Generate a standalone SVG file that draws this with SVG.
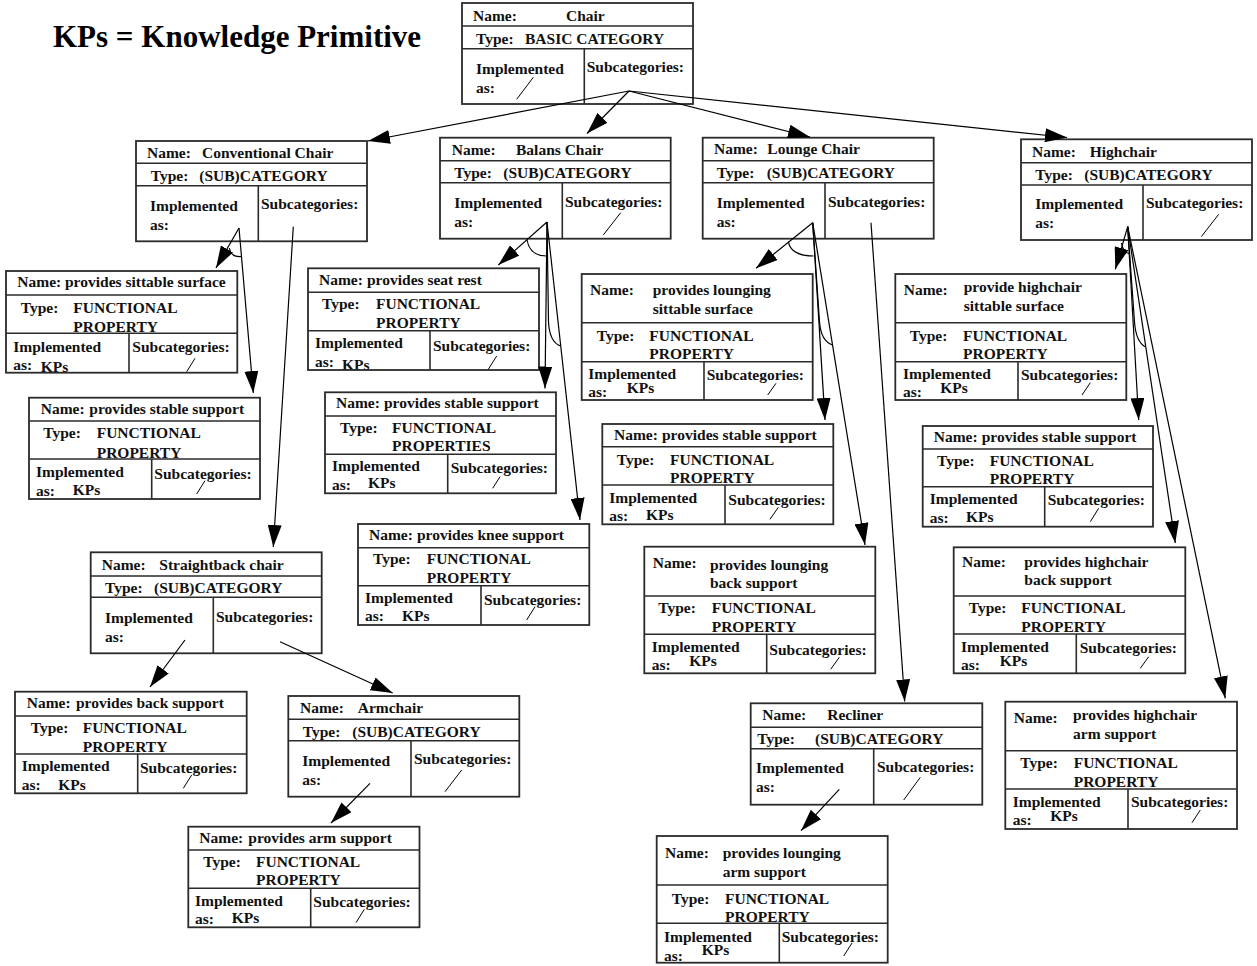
<svg xmlns="http://www.w3.org/2000/svg" width="1257" height="966" viewBox="0 0 1257 966">
<style>
.bg{fill:#fff;stroke:none}
.bd{fill:none;stroke:#2b2b2b;stroke-width:1.8}
.rl{fill:none;stroke:#2b2b2b;stroke-width:1.6}
.sl{fill:none;stroke:#000;stroke-width:1}
.c{fill:none;stroke:#000;stroke-width:1.2}
text{font-family:"Liberation Serif","Times New Roman",serif;font-weight:bold;font-size:15.5px;fill:#111}
.title{font-size:31px;fill:#000}
</style>
<defs>
<marker id="ah" viewBox="0 0 22 14" markerWidth="22" markerHeight="14" refX="22" refY="7" orient="auto" markerUnits="userSpaceOnUse">
<path d="M0,0 L22,7 L0,14 z" fill="#000"/>
</marker>
</defs>
<rect width="1257" height="966" fill="#fff"/>
<text class="title" x="53" y="47">KPs = Knowledge Primitive</text>

<g id="chair">
<rect class="bg" x="462" y="3" width="231" height="101"/>
<text x="473" y="20.7">Name:</text><text x="566" y="20.7">Chair</text>
<text x="476" y="44">Type:</text><text x="525" y="44">BASIC CATEGORY</text>
<text x="476" y="74">Implemented</text><text x="476" y="92.7">as:</text>
<text x="586.7" y="72">Subcategories:</text>
<rect class="bd" x="462" y="3" width="231" height="101"/>
<path class="rl" d="M462,26H693M462,48.7H693M584.3,48.7V104"/>
<path class="sl" d="M516.7,99.3L533.3,77.3"/>
</g>

<g id="conventional-chair">
<rect class="bg" x="136" y="141" width="231" height="100.3"/>
<text x="147" y="158.3">Name:</text><text x="202" y="158.3">Conventional Chair</text>
<text x="150.7" y="181">Type:</text><text x="199.3" y="181">(SUB)CATEGORY</text>
<text x="150" y="211">Implemented</text><text x="150" y="230">as:</text>
<text x="261" y="209">Subcategories:</text>
<rect class="bd" x="136" y="141" width="231" height="100.3"/>
<path class="rl" d="M136,163.3H367M136,185.7H367M258.3,185.7V241.3"/>
</g>

<g id="sittable-surface">
<rect class="bg" x="6" y="271" width="231.3" height="101.7"/>
<text x="17.3" y="287">Name:</text><text x="65" y="287">provides sittable surface</text>
<text x="20.7" y="313.3">Type:</text><text x="73.3" y="313.3">FUNCTIONAL</text><text x="73.3" y="332">PROPERTY</text>
<text x="13.3" y="351.7">Implemented</text><text x="13.3" y="369.5">as:</text><text x="40.7" y="372">KPs</text>
<text x="132.3" y="351.7">Subcategories:</text>
<rect class="bd" x="6" y="271" width="231.3" height="101.7"/>
<path class="rl" d="M6,295H237.3M6,333.3H237.3M129,333.3V372.7"/>
<path class="sl" d="M186.7,371.7L195,358.3"/>
</g>

<g id="stable-support-1">
<rect class="bg" x="29" y="397.7" width="231" height="101.3"/>
<text x="40.7" y="414.3">Name:</text><text x="89.3" y="414.3">provides stable support</text>
<text x="43.3" y="438.3">Type:</text><text x="96.7" y="438.3">FUNCTIONAL</text><text x="96.7" y="457.7">PROPERTY</text>
<text x="36" y="476.7">Implemented</text><text x="36" y="495.7">as:</text><text x="72.7" y="495">KPs</text>
<text x="154.3" y="479">Subcategories:</text>
<rect class="bd" x="29" y="397.7" width="231" height="101.3"/>
<path class="rl" d="M29,421H260M29,459H260M151.7,459V499"/>
<path class="sl" d="M196.7,494L205,480.7"/>
</g>

<g id="straightback-chair">
<rect class="bg" x="90.7" y="552.3" width="231" height="101"/>
<text x="101.7" y="570">Name:</text><text x="159.3" y="570">Straightback chair</text>
<text x="105" y="592.7">Type:</text><text x="154" y="592.7">(SUB)CATEGORY</text>
<text x="105" y="623.3">Implemented</text><text x="105" y="641.7">as:</text>
<text x="216" y="621.7">Subcategories:</text>
<rect class="bd" x="90.7" y="552.3" width="231" height="101"/>
<path class="rl" d="M90.7,576H321.7M90.7,597.3H321.7M213.3,597.3V653.3"/>
</g>

<g id="back-support">
<rect class="bg" x="15" y="691.7" width="231.7" height="101.6"/>
<text x="26.7" y="708.3">Name:</text><text x="76" y="708.3">provides back support</text>
<text x="30.7" y="732.7">Type:</text><text x="82.7" y="732.7">FUNCTIONAL</text><text x="82.7" y="751.7">PROPERTY</text>
<text x="21.7" y="771">Implemented</text><text x="21.7" y="790">as:</text><text x="58.3" y="790">KPs</text>
<text x="140" y="772.7">Subcategories:</text>
<rect class="bd" x="15" y="691.7" width="231.7" height="101.6"/>
<path class="rl" d="M15,716H246.7M15,754H246.7M137.7,754V793.3"/>
<path class="sl" d="M183.3,788.3L191.7,775"/>
</g>

<g id="armchair">
<rect class="bg" x="288.3" y="696" width="231" height="100.7"/>
<text x="300" y="712.7">Name:</text><text x="357.7" y="712.7">Armchair</text>
<text x="302.7" y="736.7">Type:</text><text x="352.3" y="736.7">(SUB)CATEGORY</text>
<text x="302.3" y="766">Implemented</text><text x="302.3" y="785">as:</text>
<text x="414" y="764">Subcategories:</text>
<rect class="bd" x="288.3" y="696" width="231" height="100.7"/>
<path class="rl" d="M288.3,719.3H519.3M288.3,740.7H519.3M411,740.7V796.7"/>
<path class="sl" d="M445,791.7L461.7,770"/>
</g>

<g id="arm-support">
<rect class="bg" x="188.3" y="826.7" width="231.2" height="100.6"/>
<text x="199.3" y="843.3">Name:</text><text x="248.3" y="843.3">provides arm support</text>
<text x="203.3" y="866.7">Type:</text><text x="256" y="866.7">FUNCTIONAL</text><text x="256" y="885">PROPERTY</text>
<text x="195" y="906">Implemented</text><text x="195" y="924.3">as:</text><text x="231.7" y="923.3">KPs</text>
<text x="313.3" y="906.7">Subcategories:</text>
<rect class="bd" x="188.3" y="826.7" width="231.2" height="100.6"/>
<path class="rl" d="M188.3,850H419.5M188.3,888.3H419.5M310.7,888.3V927.3"/>
<path class="sl" d="M356,922.7L364.3,909.3"/>
</g>

<g id="balans-chair">
<rect class="bg" x="440" y="137.7" width="230.7" height="101"/>
<text x="451.7" y="155">Name:</text><text x="516" y="155">Balans Chair</text>
<text x="454.3" y="178.3">Type:</text><text x="503.3" y="178.3">(SUB)CATEGORY</text>
<text x="454.3" y="208.3">Implemented</text><text x="454.3" y="226.7">as:</text>
<text x="565" y="206.7">Subcategories:</text>
<rect class="bd" x="440" y="137.7" width="230.7" height="101"/>
<path class="rl" d="M440,160.7H670.7M440,182.7H670.7M562.3,182.7V238.7"/>
<path class="sl" d="M603.3,235L620.7,212.7"/>
</g>

<g id="seat-rest">
<rect class="bg" x="308" y="268.3" width="231" height="101.7"/>
<text x="319" y="285">Name:</text><text x="367" y="285">provides seat rest</text>
<text x="322" y="309">Type:</text><text x="376" y="309">FUNCTIONAL</text><text x="376" y="328">PROPERTY</text>
<text x="315" y="348">Implemented</text><text x="315" y="367">as:</text><text x="342" y="370">KPs</text>
<text x="433" y="350.7">Subcategories:</text>
<rect class="bd" x="308" y="268.3" width="231" height="101.7"/>
<path class="rl" d="M308,292.3H539M308,330.7H539M430,330.7V370"/>
<path class="sl" d="M488.3,369.3L496.7,356"/>
</g>

<g id="stable-support-2">
<rect class="bg" x="325" y="392.3" width="231" height="101"/>
<text x="336" y="408.3">Name:</text><text x="384" y="408.3">provides stable support</text>
<text x="340" y="432.7">Type:</text><text x="392" y="432.7">FUNCTIONAL</text><text x="392" y="451">PROPERTIES</text>
<text x="332" y="471">Implemented</text><text x="332" y="490">as:</text><text x="368" y="488">KPs</text>
<text x="450.7" y="472.7">Subcategories:</text>
<rect class="bd" x="325" y="392.3" width="231" height="101"/>
<path class="rl" d="M325,416H556M325,454.3H556M447.7,454.3V493.3"/>
<path class="sl" d="M492.7,488.3L500,476.7"/>
</g>

<g id="knee-support">
<rect class="bg" x="358" y="524" width="231.3" height="101"/>
<text x="369" y="540">Name:</text><text x="417" y="540">provides knee support</text>
<text x="373" y="564.3">Type:</text><text x="426.7" y="564.3">FUNCTIONAL</text><text x="426.7" y="583.3">PROPERTY</text>
<text x="365" y="603">Implemented</text><text x="365" y="621">as:</text><text x="402" y="621">KPs</text>
<text x="484" y="605">Subcategories:</text>
<rect class="bd" x="358" y="524" width="231.3" height="101"/>
<path class="rl" d="M358,547.7H589.3M358,585.7H589.3M481,585.7V625"/>
<path class="sl" d="M526.7,620L535,606.7"/>
</g>

<g id="lounge-chair">
<rect class="bg" x="702.7" y="137.7" width="231" height="101"/>
<text x="714" y="154">Name:</text><text x="767.3" y="154">Lounge Chair</text>
<text x="716.7" y="178.3">Type:</text><text x="766.7" y="178.3">(SUB)CATEGORY</text>
<text x="716.7" y="208.3">Implemented</text><text x="716.7" y="226.7">as:</text>
<text x="828" y="206.7">Subcategories:</text>
<rect class="bd" x="702.7" y="137.7" width="231" height="101"/>
<path class="rl" d="M702.7,160.7H933.7M702.7,182.7H933.7M825,182.7V238.7"/>
</g>

<g id="lounging-sittable-surface">
<rect class="bg" x="581.7" y="274" width="231" height="126"/>
<text x="590" y="295">Name:</text><text x="652.7" y="295">provides lounging</text><text x="652.7" y="314.3">sittable surface</text>
<text x="596.7" y="340.7">Type:</text><text x="649.3" y="340.7">FUNCTIONAL</text><text x="649.3" y="359">PROPERTY</text>
<text x="588.3" y="379.3">Implemented</text><text x="588.3" y="397.3">as:</text><text x="626.7" y="392.7">KPs</text>
<text x="706.7" y="380">Subcategories:</text>
<rect class="bd" x="581.7" y="274" width="231" height="126"/>
<path class="rl" d="M581.7,322.7H812.7M581.7,361.7H812.7M704,361.7V400"/>
<path class="sl" d="M767.7,395L776,383.3"/>
</g>

<g id="stable-support-3">
<rect class="bg" x="602.3" y="424" width="231" height="100.3"/>
<text x="614" y="440">Name:</text><text x="662" y="440">provides stable support</text>
<text x="616.7" y="465">Type:</text><text x="670" y="465">FUNCTIONAL</text><text x="670" y="482.7">PROPERTY</text>
<text x="609.3" y="502.7">Implemented</text><text x="609.3" y="521">as:</text><text x="646" y="520">KPs</text>
<text x="728.3" y="505">Subcategories:</text>
<rect class="bd" x="602.3" y="424" width="231" height="100.3"/>
<path class="rl" d="M602.3,446.7H833.3M602.3,485H833.3M725,485V524.3"/>
<path class="sl" d="M770,519.3L778.3,507.3"/>
</g>

<g id="lounging-back-support">
<rect class="bg" x="644.3" y="546.7" width="231" height="126.6"/>
<text x="652.7" y="568.3">Name:</text><text x="710" y="570">provides lounging</text><text x="710" y="588.3">back support</text>
<text x="658.3" y="613.3">Type:</text><text x="711.7" y="613.3">FUNCTIONAL</text><text x="711.7" y="631.7">PROPERTY</text>
<text x="651.7" y="651.7">Implemented</text><text x="651.7" y="670">as:</text><text x="689.3" y="666">KPs</text>
<text x="769.3" y="655">Subcategories:</text>
<rect class="bd" x="644.3" y="546.7" width="231" height="126.6"/>
<path class="rl" d="M644.3,596H875.3M644.3,634.3H875.3M766.7,634.3V673.3"/>
<path class="sl" d="M830.7,669.3L839.3,657.3"/>
</g>

<g id="recliner">
<rect class="bg" x="750.7" y="703.3" width="231.6" height="101.4"/>
<text x="762.3" y="720">Name:</text><text x="827.3" y="720">Recliner</text>
<text x="757.3" y="744">Type:</text><text x="815" y="744">(SUB)CATEGORY</text>
<text x="756" y="773.3">Implemented</text><text x="756" y="791.7">as:</text>
<text x="877" y="771.7">Subcategories:</text>
<rect class="bd" x="750.7" y="703.3" width="231.6" height="101.4"/>
<path class="rl" d="M750.7,727.3H982.3M750.7,748.7H982.3M873.7,748.7V804.7"/>
<path class="sl" d="M903.7,800L920.3,777.3"/>
</g>

<g id="lounging-arm-support">
<rect class="bg" x="656.7" y="836" width="231" height="126.7"/>
<text x="665" y="858.3">Name:</text><text x="722.7" y="858">provides lounging</text><text x="722.7" y="877.3">arm support</text>
<text x="671.7" y="904">Type:</text><text x="725" y="904">FUNCTIONAL</text><text x="725" y="921.7">PROPERTY</text>
<text x="664" y="941.7">Implemented</text><text x="664" y="960.7">as:</text><text x="701.7" y="955">KPs</text>
<text x="781.7" y="941.7">Subcategories:</text>
<rect class="bd" x="656.7" y="836" width="231" height="126.7"/>
<path class="rl" d="M656.7,885H887.7M656.7,923.3H887.7M779.3,923.3V962.7"/>
<path class="sl" d="M843.7,956L852,943"/>
</g>

<g id="highchair">
<rect class="bg" x="1021" y="139.3" width="231" height="100.7"/>
<text x="1032" y="156.7">Name:</text><text x="1089.7" y="156.7">Highchair</text>
<text x="1035.3" y="180">Type:</text><text x="1084.3" y="180">(SUB)CATEGORY</text>
<text x="1035.3" y="209.3">Implemented</text><text x="1035.3" y="228.3">as:</text>
<text x="1146" y="208.3">Subcategories:</text>
<rect class="bd" x="1021" y="139.3" width="231" height="100.7"/>
<path class="rl" d="M1021,162.7H1252M1021,185H1252M1143,185V240"/>
<path class="sl" d="M1201.3,236.7L1218.7,214.3"/>
</g>

<g id="highchair-sittable-surface">
<rect class="bg" x="895.3" y="274" width="231" height="126"/>
<text x="903.7" y="295">Name:</text><text x="963.7" y="291.7">provide highchair</text><text x="963.7" y="310.7">sittable surface</text>
<text x="909.7" y="340.7">Type:</text><text x="963" y="340.7">FUNCTIONAL</text><text x="963" y="359">PROPERTY</text>
<text x="903" y="379.3">Implemented</text><text x="903" y="397.3">as:</text><text x="940.3" y="392.7">KPs</text>
<text x="1021" y="380">Subcategories:</text>
<rect class="bd" x="895.3" y="274" width="231" height="126"/>
<path class="rl" d="M895.3,322.7H1126.3M895.3,361.7H1126.3M1018,361.7V400"/>
<path class="sl" d="M1082,395L1090.3,382.7"/>
</g>

<g id="stable-support-4">
<rect class="bg" x="922.7" y="426" width="230.3" height="100.7"/>
<text x="933.7" y="441.7">Name:</text><text x="981.7" y="441.7">provides stable support</text>
<text x="937" y="466">Type:</text><text x="989.7" y="466">FUNCTIONAL</text><text x="989.7" y="484">PROPERTY</text>
<text x="929.7" y="504.3">Implemented</text><text x="929.7" y="523.3">as:</text><text x="966" y="521.7">KPs</text>
<text x="1047.7" y="505">Subcategories:</text>
<rect class="bd" x="922.7" y="426" width="230.3" height="100.7"/>
<path class="rl" d="M922.7,449H1153M922.7,486.7H1153M1044.7,486.7V526.7"/>
<path class="sl" d="M1090.3,521.7L1098.7,508.3"/>
</g>

<g id="highchair-back-support">
<rect class="bg" x="953.7" y="547.3" width="231.6" height="126"/>
<text x="962" y="566.7">Name:</text><text x="1024.3" y="566.7">provides highchair</text><text x="1024.3" y="585">back support</text>
<text x="968.7" y="613.3">Type:</text><text x="1021.3" y="613.3">FUNCTIONAL</text><text x="1021.3" y="631.7">PROPERTY</text>
<text x="961" y="651.7">Implemented</text><text x="961" y="670">as:</text><text x="999.7" y="666">KPs</text>
<text x="1079.7" y="653.3">Subcategories:</text>
<rect class="bd" x="953.7" y="547.3" width="231.6" height="126"/>
<path class="rl" d="M953.7,596H1185.3M953.7,634H1185.3M1076.3,634V673.3"/>
<path class="sl" d="M1140.3,668.3L1148.7,656.7"/>
</g>

<g id="highchair-arm-support">
<rect class="bg" x="1005.3" y="701.7" width="231.7" height="127.3"/>
<text x="1013.7" y="723.3">Name:</text><text x="1073" y="720">provides highchair</text><text x="1073" y="739">arm support</text>
<text x="1020.3" y="768.3">Type:</text><text x="1073.7" y="768.3">FUNCTIONAL</text><text x="1073.7" y="786.7">PROPERTY</text>
<text x="1012.7" y="806.7">Implemented</text><text x="1012.7" y="825">as:</text><text x="1050.3" y="820.7">KPs</text>
<text x="1131" y="806.7">Subcategories:</text>
<rect class="bd" x="1005.3" y="701.7" width="231.7" height="127.3"/>
<path class="rl" d="M1005.3,750.7H1237M1005.3,789H1237M1128,789V829"/>
<path class="sl" d="M1192,822.7L1200.3,810"/>
</g>

<g id="connectors">
<!-- Chair: subcategories -->
<path class="c" marker-end="url(#ah)" d="M629,91L368,141"/>
<path class="c" marker-end="url(#ah)" d="M629,91L587,133.5"/>
<path class="c" marker-end="url(#ah)" d="M629,91L810,137"/>
<path class="c" marker-end="url(#ah)" d="M629,91L1067,137.5"/>
<!-- Conventional Chair -->
<path class="c" marker-end="url(#ah)" d="M239,228L216,268"/>
<path class="c" marker-end="url(#ah)" d="M239,228L253.3,393"/>
<path class="c" d="M229.3,248Q231,257.5 241.5,256.5"/>
<path class="c" marker-end="url(#ah)" d="M293.3,226.7L273.3,547"/>
<!-- Straightback chair -->
<path class="c" marker-end="url(#ah)" d="M185,640L150,687"/>
<path class="c" marker-end="url(#ah)" d="M280,641.7L392.7,693"/>
<!-- Armchair -->
<path class="c" marker-end="url(#ah)" d="M370,783.3L331,823"/>
<!-- Balans Chair -->
<path class="c" marker-end="url(#ah)" d="M547,222L498.3,265"/>
<path class="c" marker-end="url(#ah)" d="M547,222L545,388.5"/>
<path class="c" d="M547,222L548.5,322Q549.5,342 560.5,346"/>
<path class="c" marker-end="url(#ah)" d="M547,222L580,520"/>
<path class="c" d="M527,240Q530,256 546.5,256"/>
<!-- Lounge Chair -->
<path class="c" marker-end="url(#ah)" d="M812.7,222.7L756,268.3"/>
<path class="c" marker-end="url(#ah)" d="M812.7,222.7L825,420"/>
<path class="c" d="M812.7,222.7L819.5,322Q821,341 832.5,345"/>
<path class="c" marker-end="url(#ah)" d="M812.7,222.7L865,545"/>
<path class="c" d="M788.3,241.7Q791,256 813.5,256"/>
<path class="c" marker-end="url(#ah)" d="M871,222.7L904.7,701.5"/>
<!-- Recliner -->
<path class="c" marker-end="url(#ah)" d="M839.3,789.3L801,830.7"/>
<!-- Highchair -->
<path class="c" marker-end="url(#ah)" d="M1127.7,226.7L1115.3,269.3"/>
<path class="c" marker-end="url(#ah)" d="M1127.7,226.7L1138.7,420"/>
<path class="c" d="M1127.7,226.7L1134.5,322Q1136,342 1145.5,347"/>
<path class="c" marker-end="url(#ah)" d="M1127.7,226.7L1175.3,543"/>
<path class="c" marker-end="url(#ah)" d="M1127.7,226.7L1225.3,698.3"/>
<path class="c" d="M1121.5,243Q1123,253 1130,254"/>
</g>
</svg>
